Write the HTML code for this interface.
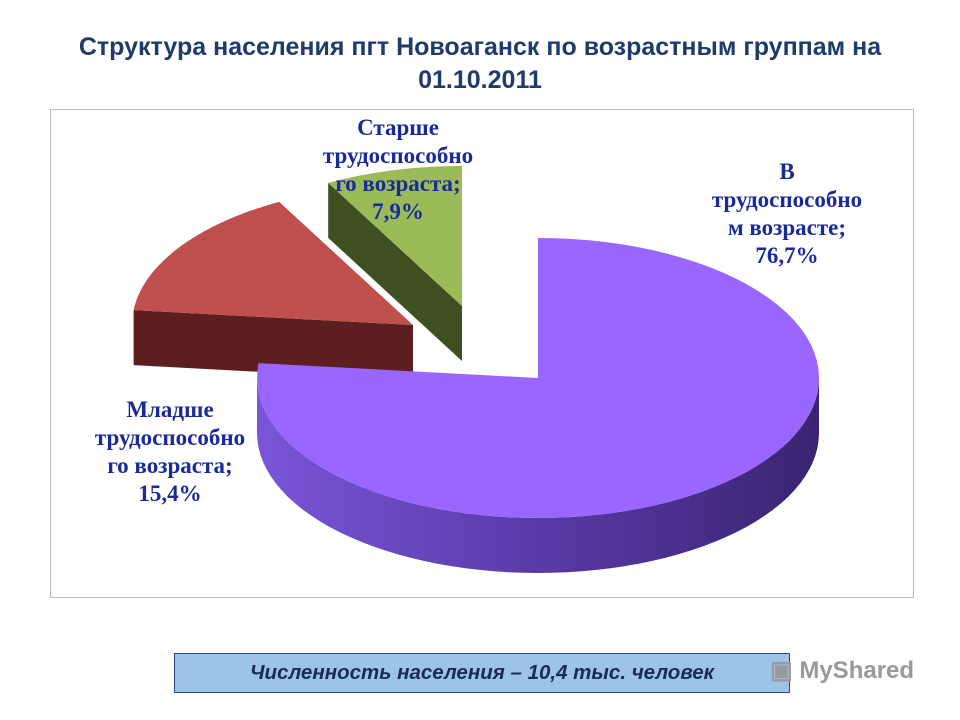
<!DOCTYPE html>
<html><head><meta charset="utf-8"><style>
body{margin:0;width:960px;height:720px;background:#fff;overflow:hidden;position:relative;font-family:"Liberation Sans",sans-serif}
.t{position:absolute;left:0;width:960px;text-align:center;font-weight:bold;font-size:25px;color:#1f3a6b;line-height:30px}
.lbl{position:absolute;text-align:center;font-family:"Liberation Serif",serif;font-weight:bold;font-size:23px;line-height:28px;color:#1a2a9a;width:220px}
</style></head><body>
<div class="t" style="top:32px">Структура населения пгт Новоаганск по возрастным группам на</div>
<div class="t" style="top:65px">01.10.2011</div>
<div style="position:absolute;left:50px;top:109px;width:862px;height:487px;border:1.5px solid #bbb"></div>
<svg id="pie" width="960" height="720" style="position:absolute;left:0;top:0">
<defs>
<linearGradient id="gp" x1="0" x2="1" y1="0" y2="0"><stop offset="0" stop-color="#7a55d8"/><stop offset="0.5" stop-color="#5a3aa8"/><stop offset="1" stop-color="#3a2470"/></linearGradient>
</defs>
</svg>
<div class="lbl" style="left:288px;top:114px">Старше<br>трудоспособно<br>го возраста;<br>7,9%</div>
<div class="lbl" style="left:677px;top:158px">В<br>трудоспособно<br>м возрасте;<br>76,7%</div>
<div class="lbl" style="left:60px;top:396px">Младше<br>трудоспособно<br>го возраста;<br>15,4%</div>
<div style="position:absolute;left:174px;top:653px;width:614px;height:38px;background:#9dc3e6;border:1.5px solid #2e4a8a;text-align:center;line-height:38px;font-style:italic;font-weight:bold;font-size:20.5px;color:#1a2a5a">Численность населения – 10,4 тыс. человек</div>
<div style="position:absolute;left:770px;top:656px;font-size:24px;color:#999;font-weight:bold">▣ MyShared</div>
<script>
const categories=["В трудоспособном возрасте","Младше трудоспособного возраста","Старше трудоспособного возраста"];
const values=[76.7,15.4,7.9];
const centers=[[538,378],[413,325],[462,306]];
const topColors=["#9966ff","#c0504d","#9bbb59"];
const sideColors=["url(#gp)","#5c1e1e","#3f5020"];
const rx=281,ry=140,depth=55;
const svg=document.getElementById('pie');
const NS="http://www.w3.org/2000/svg";
function pt(c,a,dy){const r=a*Math.PI/180;return [c[0]+rx*Math.sin(r),c[1]-ry*Math.cos(r)+(dy||0)];}
function poly(pts,fill,name){const p=document.createElementNS(NS,'path');
p.setAttribute('d','M'+pts.map(q=>q[0].toFixed(1)+','+q[1].toFixed(1)).join('L')+'Z');
p.setAttribute('fill',fill);


svg.appendChild(p);}
const total=values.reduce((a,b)=>a+b,0);
let angles=[];let acc=0;
values.forEach(v=>{const a1=acc/total*360;acc+=v;angles.push([a1,acc/total*360]);});
const order=[2,1,0];
order.forEach(i=>{
 const c=centers[i],a1=angles[i][0],a2=angles[i][1];
 if(Math.cos((a1-90)*Math.PI/180)<0.01){const e=pt(c,a1);poly([c,e,[e[0],e[1]+depth],[c[0],c[1]+depth]],sideColors[i],'side-face-'+i);}
 if(Math.cos((a2+90)*Math.PI/180)<0.01){const e=pt(c,a2);poly([c,e,[e[0],e[1]+depth],[c[0],c[1]+depth]],sideColors[i],'side-face-end-'+i);}
 const s=Math.max(a1,90),t=Math.min(a2,270);
 if(t>s){const top=[],bot=[];for(let a=s;a<=t+0.001;a+=(t-s)/60){top.push(pt(c,a));bot.unshift(pt(c,a,depth));}
 poly(top.concat(bot),sideColors[i],'outer-wall-'+i);}
 const pts=[c];for(let a=a1;a<=a2+0.001;a+=(a2-a1)/80)pts.push(pt(c,a));
 poly(pts,topColors[i],'slice-'+i);
});
</script>
</body></html>
